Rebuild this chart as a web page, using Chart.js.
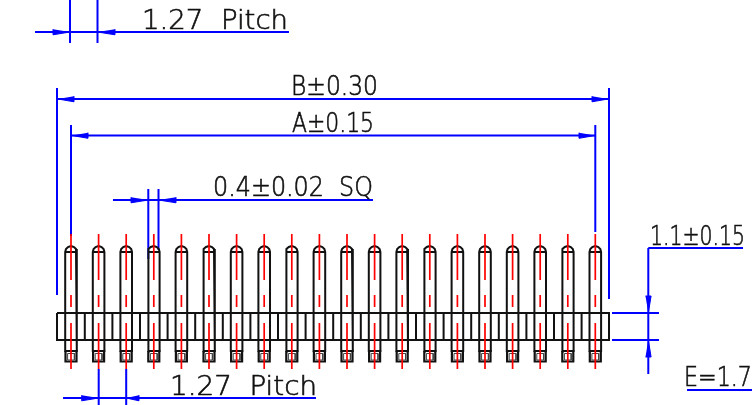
<!DOCTYPE html>
<html>
<head>
<meta charset="utf-8">
<style>
    html, body { margin: 0; padding: 0; background: #fff; overflow: hidden; }
    canvas { display: block; }
</style>
</head>
<body>
<canvas id="myChart" width="752" height="405"></canvas>
<script src="https://cdn.jsdelivr.net/npm/chart.js"></script>
<script>
    // drawing units are the pixels of the picture (y grows downwards)
    const pinCentres = [71, 98.6, 126.2, 153.8, 181.4, 209, 236.6, 264.2, 291.8, 319.4,
                        347, 374.6, 402.2, 429.8, 457.4, 485, 512.6, 540.2, 567.8, 595.3];
    const bodyDividers = [84.8, 112.4, 140, 167.6, 195.2, 222.8, 250.4, 278, 305.6, 333.2,
                          360.8, 388.4, 416, 443.6, 471.2, 498.8, 526.4, 554, 581.6];
    const bodyBox = [57, 313, 609, 340];

    // x offset, y of one pin outline
    const pinLeftSide = [[-5.8, 352], [-5.8, 252], [-5, 249], [-3, 247], [0, 246]];
    const pinRightSide = [[0, 246], [3, 247], [5, 249], [5.8, 252], [5.8, 352]];
    const pinShoulder = [[-5.8, 252], [5.8, 252]];
    const pinOuterSquare = [[-5.5, 351], [5.5, 351], [5.5, 361.5], [-5.5, 361.5], [-5.5, 351]];
    const pinInnerSquare = [[-3.4, 353.5], [3.4, 353.5], [3.4, 360], [-3.4, 360], [-3.4, 353.5]];
    const centreLineTop = 234;
    const centreLineBottom = 369;

    // x1, y1, x2, y2
    const dimensionLines = [
        [35, 32, 289, 32], [70, 0, 70, 43], [97.5, 0, 97.5, 43],
        [58, 99, 608, 99], [57, 88, 57, 295], [609, 88, 609, 299],
        [71, 135.5, 595, 135.5], [71, 125, 71, 236], [595.3, 125, 595.3, 232],
        [113, 200, 373, 200], [148.3, 189, 148.3, 259], [158.5, 189, 158.5, 250],
        [648.3, 248, 743, 248], [648.3, 248, 648.3, 374],
        [612, 313, 659, 313], [612, 340, 659, 340],
        [687, 390, 752, 390],
        [63, 398, 316, 398], [98.7, 369, 98.7, 405], [126.2, 369, 126.2, 405]
    ];

    // tip x, tip y, base x, base y
    const arrowHeads = [
        [70, 32, 53, 32], [97.5, 32, 115, 32],
        [58, 99, 74, 99], [608, 99, 592, 99],
        [72, 135.5, 88, 135.5], [595, 135.5, 579, 135.5],
        [148.3, 200, 131, 200], [158.5, 200, 176, 200],
        [648.3, 313, 648.3, 296], [648.3, 340, 648.3, 357],
        [98.7, 398, 81.7, 398], [126.2, 398, 139, 398]
    ];

    // text, left x, baseline y, width on the picture
    const dimensionTexts = [
        ['1.27  Pitch', 142, 29, 146],
        ['B±0.30', 291, 95, 87],
        ['A±0.15', 292, 132, 82],
        ['0.4±0.02  SQ', 213, 196, 160],
        ['1.1±0.15', 650, 245, 95],
        ['E=1.7', 684, 386, 68],
        ['1.27  Pitch', 170, 395, 147]
    ];

    const gap = {x: null, y: null};

    function segmentPoints(list) {
        const pts = [];
        list.forEach(function (s) {
            pts.push({x: s[0], y: s[1]}, {x: s[2], y: s[3]}, gap);
        });
        return pts;
    }

    function pinPoints(shape) {
        const pts = [];
        pinCentres.forEach(function (c) {
            shape.forEach(function (p) { pts.push({x: c + p[0], y: p[1]}); });
            pts.push(gap);
        });
        return pts;
    }

    function arrowPoints(list) {
        const pts = [];
        const halfWidth = 2.8;
        list.forEach(function (a) {
            const px = a[1] === a[3] ? 0 : halfWidth;
            const py = a[1] === a[3] ? halfWidth : 0;
            pts.push({x: a[0], y: a[1]}, {x: a[2] + px, y: a[3] + py}, {x: a[2] - px, y: a[3] - py}, gap);
        });
        return pts;
    }

    const blackPoints = [].concat(
        pinPoints(pinLeftSide), pinPoints(pinRightSide), pinPoints(pinShoulder),
        [{x: bodyBox[0], y: bodyBox[1]}, {x: bodyBox[2], y: bodyBox[1]}, {x: bodyBox[2], y: bodyBox[3]},
         {x: bodyBox[0], y: bodyBox[3]}, {x: bodyBox[0], y: bodyBox[1]}, gap],
        segmentPoints(bodyDividers.map(function (x) { return [x, bodyBox[1], x, bodyBox[3]]; }))
    );

    const redPoints = segmentPoints(pinCentres.map(function (x) {
        return [x, centreLineTop, x, centreLineBottom];
    }));

    const textPlugin = {
        id: 'dimensionTexts',
        afterDraw: function (chart) {
            const ctx = chart.ctx;
            const xs = chart.scales.x;
            const ys = chart.scales.y;
            ctx.save();
            ctx.fillStyle = '#111';
            ctx.strokeStyle = '#111';
            ctx.lineWidth = 0.6;
            ctx.font = '200 26px "DejaVu Sans", "Liberation Sans", sans-serif';
            ctx.textAlign = 'left';
            ctx.textBaseline = 'alphabetic';
            dimensionTexts.forEach(function (t) {
                const w = ctx.measureText(t[0]).width;
                ctx.save();
                ctx.translate(xs.getPixelForValue(t[1]), ys.getPixelForValue(t[2]));
                ctx.scale(t[3] / w, 1);
                ctx.fillText(t[0], 0, 0);
                ctx.strokeText(t[0], 0, 0);
                ctx.restore();
            });
            ctx.restore();
        }
    };

    new Chart(document.getElementById('myChart'), {
        type: 'scatter',
        data: {
            datasets: [
                {label: 'arrows', data: arrowPoints(arrowHeads), showLine: true, fill: 'shape',
                 backgroundColor: '#0000ff', borderColor: '#0000ff', borderWidth: 1, order: 6},
                {label: 'dimensions', data: segmentPoints(dimensionLines), showLine: true,
                 borderColor: '#0000ff', borderWidth: 2, order: 5},
                {label: 'outline', data: blackPoints, showLine: true,
                 borderColor: '#111', borderWidth: 2, order: 4},
                {label: 'pin ends', data: pinPoints(pinOuterSquare), showLine: true,
                 borderColor: '#111', borderWidth: 2.2, order: 3},
                {label: 'pin end holes', data: pinPoints(pinInnerSquare), showLine: true,
                 borderColor: '#444', borderWidth: 1, order: 2},
                {label: 'centre lines', data: redPoints, showLine: true,
                 borderColor: '#ff0000', borderWidth: 1.7, borderDash: [46, 15, 12, 16], order: 1}
            ]
        },
        options: {
            responsive: false,
            animation: false,
            events: [],
            layout: {padding: 0},
            elements: {point: {radius: 0}, line: {tension: 0, borderCapStyle: 'butt'}},
            plugins: {legend: {display: false}, tooltip: {enabled: false}, title: {display: false}},
            scales: {
                x: {type: 'linear', min: 0, max: 752, display: false},
                y: {type: 'linear', min: 0, max: 405, reverse: true, display: false}
            }
        },
        plugins: [textPlugin]
    });
</script>
</body>
</html>
